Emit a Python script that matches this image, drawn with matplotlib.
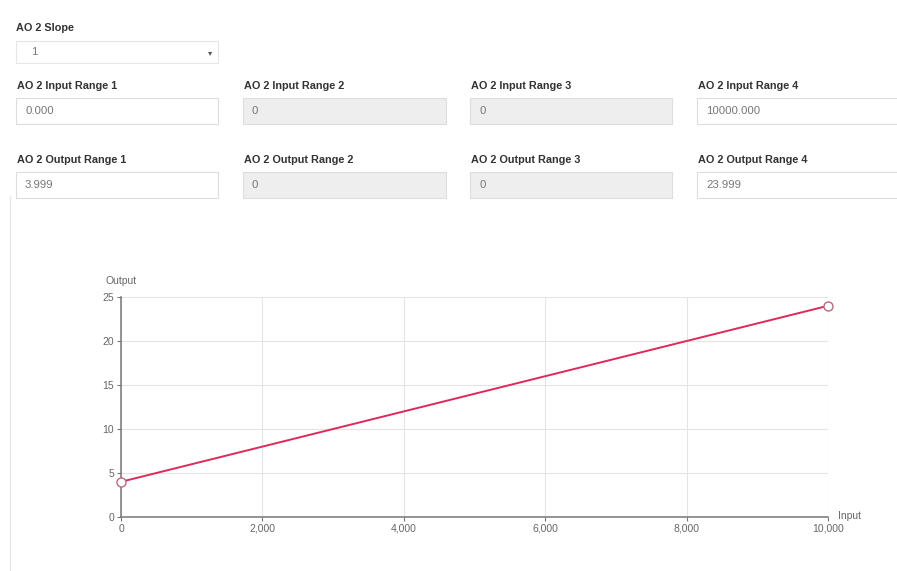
import matplotlib
matplotlib.use("Agg")
import numpy as np
import matplotlib.pyplot as plt
from matplotlib.patches import Rectangle
from matplotlib.ticker import FuncFormatter

plt.rcParams['font.family'] = ['Liberation Sans', 'DejaVu Sans']

# form values
slope_value = "1"
input_labels = ["AO 2 Input Range 1", "AO 2 Input Range 2", "AO 2 Input Range 3", "AO 2 Input Range 4"]
input_values = ["0.000", "0", "0", "10000.000"]
output_labels = ["AO 2 Output Range 1", "AO 2 Output Range 2", "AO 2 Output Range 3", "AO 2 Output Range 4"]
output_values = ["3.999", "0", "0", "23.999"]
field_disabled = [False, True, True, False]

# chart data (first and last ranges are the active points)
chart_input = [0, 10000]
chart_output = [3.999, 23.999]
x_ticks = [0, 2000, 4000, 6000, 8000, 10000]
y_ticks = [0, 5, 10, 15, 20, 25]

W, H = 897, 571
fig = plt.figure(figsize=(W / 100, H / 100), dpi=100)

# overlay in pixel coordinates for the form part
ui = fig.add_axes([0, 0, 1, 1])
ui.set_xlim(0, W)
ui.set_ylim(H, 0)
ui.axis('off')

lab_kw = dict(fontsize=7.8, fontweight='bold', color='#333333', va='center', ha='left')
val_kw = dict(fontsize=8.2, color='#777777', va='center', ha='left')

# slope select
ui.text(16, 28, "AO 2 Slope", **lab_kw)
ui.add_patch(Rectangle((16, 41), 202, 22, facecolor='white', edgecolor='#e6e6e6', lw=0.8))
ui.text(31, 52, slope_value, **val_kw)
ui.text(210, 53, "\u25be", fontsize=6, color='#555555', ha='center', va='center',
        family=['DejaVu Sans'])

col_x = [16, 243, 470, 697]
col_w = [202, 203, 202, 210]


def draw_row(labels, values, y_lab, y_box):
    for i in range(4):
        x = col_x[i]
        ui.text(x + 1, y_lab, labels[i], **lab_kw)
        fc = '#eeeeee' if field_disabled[i] else 'white'
        ui.add_patch(Rectangle((x, y_box), col_w[i], 26, facecolor=fc,
                               edgecolor='#dddddd', lw=0.8))
        ui.text(x + 9, y_box + 13, values[i], **val_kw)


draw_row(input_labels, input_values, 86, 98)
draw_row(output_labels, output_values, 160, 172)

# faint left border of chart panel
ui.plot([9.5, 9.5], [196, H], color='#e8e8e8', lw=1)

# chart
ax = fig.add_axes([121 / W, 1 - 517 / H, (828 - 121) / W, (517 - 297) / H])
ax.set_xlim(0, 10000)
ax.set_ylim(0, 25)
ax.set_xticks(x_ticks)
ax.set_yticks(y_ticks)
ax.xaxis.set_major_formatter(FuncFormatter(lambda v, p: '{:,.0f}'.format(v)))
ax.grid(True, color='#e4e4e4', lw=0.8)
ax.set_axisbelow(True)
for s in ['top', 'right']:
    ax.spines[s].set_visible(False)
for s in ['left', 'bottom']:
    ax.spines[s].set_color('#777777')
    ax.spines[s].set_linewidth(1.1)
ax.tick_params(length=3, width=0.8, color='#777777', labelsize=7.5,
               labelcolor='#666666', pad=2)

ax.plot(chart_input, chart_output, color='#dc2a5a', lw=1.4, zorder=3)
ax.plot(chart_input, chart_output, 'o', ms=6.5, mfc='white', mec='#b86a7a',
        mew=1.0, zorder=4, clip_on=False)

fig.text(105 / W, 1 - 281 / H, "Output", fontsize=7.5, color='#666666',
         ha='left', va='center')
fig.text(838 / W, 1 - 516 / H, "Input", fontsize=7.5, color='#666666',
         ha='left', va='center')

fig.savefig("out.png", dpi=100)
